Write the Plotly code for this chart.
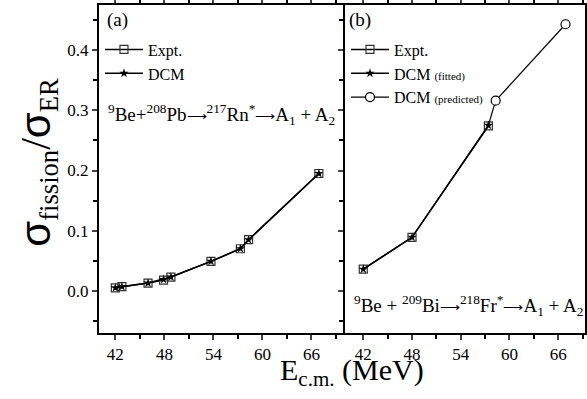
import plotly.graph_objects as go

# ---- data ----
# Panel (a): 9Be + 208Pb
ecm_a = [42.0, 42.8, 46.0, 47.9, 48.8, 53.7, 57.3, 58.3, 66.9]
expt_a = [0.005, 0.007, 0.013, 0.018, 0.023, 0.049, 0.070, 0.085, 0.195]
dcm_a = [0.005, 0.007, 0.013, 0.019, 0.023, 0.049, 0.070, 0.085, 0.195]

# Panel (b): 9Be + 209Bi
ecm_b = [42.0, 48.0, 57.4]
expt_b = [0.036, 0.089, 0.274]
dcm_fit_b = [0.036, 0.089, 0.275]
ecm_pred_b = [58.3, 66.9]
dcm_pred_b = [0.316, 0.443]

x_ticks = [42, 48, 54, 60, 66]
y_ticks = [0.0, 0.1, 0.2, 0.3, 0.4]

FONT = "Liberation Serif"
fig = go.Figure()

# Panel (a)
fig.add_trace(go.Scatter(x=ecm_a, y=expt_a, mode="lines+markers", name="Expt.",
                         line=dict(color="black", width=1.5),
                         marker=dict(symbol="square-open", size=8, color="#333",
                                     line=dict(width=1.2)),
                         xaxis="x", yaxis="y", legend="legend"))
fig.add_trace(go.Scatter(x=ecm_a, y=dcm_a, mode="lines+markers", name="DCM",
                         line=dict(color="black", width=1.5),
                         marker=dict(symbol="star", size=7, color="black"),
                         xaxis="x", yaxis="y", legend="legend"))

# Panel (b)
fig.add_trace(go.Scatter(x=ecm_b, y=expt_b, mode="lines+markers", name="Expt.",
                         line=dict(color="black", width=1.5),
                         marker=dict(symbol="square-open", size=8, color="#333",
                                     line=dict(width=1.2)),
                         xaxis="x2", yaxis="y2", legend="legend2"))
fig.add_trace(go.Scatter(x=ecm_b, y=dcm_fit_b, mode="lines+markers",
                         name="DCM <span style='font-size:11px'>(fitted)</span>",
                         line=dict(color="black", width=1.5),
                         marker=dict(symbol="star", size=7, color="black"),
                         xaxis="x2", yaxis="y2", legend="legend2"))
fig.add_trace(go.Scatter(x=[ecm_b[-1], ecm_pred_b[0]], y=[dcm_fit_b[-1], dcm_pred_b[0]],
                         mode="lines", showlegend=False,
                         line=dict(color="black", width=1.2),
                         xaxis="x2", yaxis="y2"))
fig.add_trace(go.Scatter(x=ecm_pred_b, y=dcm_pred_b, mode="lines+markers",
                         name="DCM <span style='font-size:11px'>(predicted)</span>",
                         line=dict(color="black", width=1.2),
                         marker=dict(symbol="circle", size=9, color="white",
                                     line=dict(color="black", width=1.2)),
                         xaxis="x2", yaxis="y2", legend="legend2"))

split = (345 - 99) / 486.0
xcommon = dict(tickmode="array", tickvals=x_ticks, ticks="outside", ticklen=5,
               tickwidth=1.5, showline=True, linecolor="black", linewidth=2,
               mirror="ticks", showgrid=False, zeroline=False, automargin=False,
               tickfont=dict(family=FONT, size=17, color="black"),
               minor=dict(dtick=3, tick0=42, ticks="outside", ticklen=4,
                          tickwidth=1.5, tickcolor="black"))
ycommon = dict(tickmode="array", tickvals=y_ticks, ticks="outside", ticklen=5,
               tickwidth=1.5, showline=True, linecolor="black", linewidth=2,
               showgrid=False, zeroline=False, range=[-0.07, 0.475],
               tickformat=".1f", automargin=False,
               tickfont=dict(family=FONT, size=17, color="black"),
               minor=dict(dtick=0.05, tick0=0, ticks="outside", ticklen=4,
                          tickwidth=1.5, tickcolor="black"))

fig.update_layout(
    width=587, height=399,
    margin=dict(l=99, r=2, t=5, b=66, autoexpand=False),
    paper_bgcolor="white", plot_bgcolor="white",
    font=dict(family=FONT, color="black"),
    xaxis=dict(domain=[0, split], range=[40.0, 70.1], anchor="y", **xcommon),
    xaxis2=dict(domain=[split, 1], range=[39.75, 69.3], anchor="y2", **xcommon),
    yaxis=dict(anchor="x", mirror=False, **ycommon),
    yaxis2=dict(anchor="x2", showticklabels=False, mirror=True, **ycommon),
    legend=dict(x=0.002, y=0.916, xanchor="left", yanchor="top",
                bgcolor="rgba(0,0,0,0)", font=dict(family=FONT, size=16),
                tracegroupgap=0, itemwidth=38),
    legend2=dict(x=split + 0.002, y=0.916, xanchor="left", yanchor="top",
                 bgcolor="rgba(0,0,0,0)", font=dict(family=FONT, size=16),
                 tracegroupgap=0, itemwidth=38),
    showlegend=True,
)

ARROW = "<span style='font-size:14px'>\u27f6</span>"
fig.add_annotation(text="(a)", xref="paper", yref="paper", x=0.013, y=0.955,
                   xanchor="left", yanchor="middle", showarrow=False,
                   font=dict(family=FONT, size=19))
fig.add_annotation(text="(b)", xref="paper", yref="paper", x=split + 0.004, y=0.955,
                   xanchor="left", yanchor="middle", showarrow=False,
                   font=dict(family=FONT, size=19))
fig.add_annotation(text="<sup>9</sup>Be+<sup>208</sup>Pb" + ARROW + "<sup>217</sup>Rn<sup>*</sup>" + ARROW
                        + "A<sub>1</sub> + A<sub>2</sub>",
                   xref="paper", yref="paper", x=0.014, y=0.665,
                   xanchor="left", yanchor="middle", showarrow=False,
                   font=dict(family=FONT, size=19))
fig.add_annotation(text="<sup>9</sup>Be + <sup>209</sup>Bi" + ARROW + "<sup>218</sup>Fr<sup>*</sup>" + ARROW
                        + "A<sub>1</sub> + A<sub>2</sub>",
                   xref="paper", yref="paper", x=split + 0.014, y=0.085,
                   xanchor="left", yanchor="middle", showarrow=False,
                   font=dict(family=FONT, size=19))
fig.add_annotation(text="E<sub>c.m.</sub> (MeV)", xref="paper", yref="paper",
                   x=0.52, y=-0.12, xanchor="center", yanchor="middle",
                   showarrow=False, font=dict(family=FONT, size=30))
fig.add_annotation(text="<span style='font-family:Liberation Sans;font-size:42px'>\u03c3</span><sub>fission</sub>"
                        "<span style='font-size:42px'>/</span>"
                        "<span style='font-family:Liberation Sans;font-size:42px'>\u03c3</span><sub>ER</sub>",
                   xref="paper", yref="paper", x=-0.125, y=0.52,
                   xanchor="center", yanchor="middle", textangle=-90,
                   showarrow=False, font=dict(family=FONT, size=38))

fig.write_html("out.html", config={"displayModeBar": False},
               post_script="document.body.style.margin='0';")
